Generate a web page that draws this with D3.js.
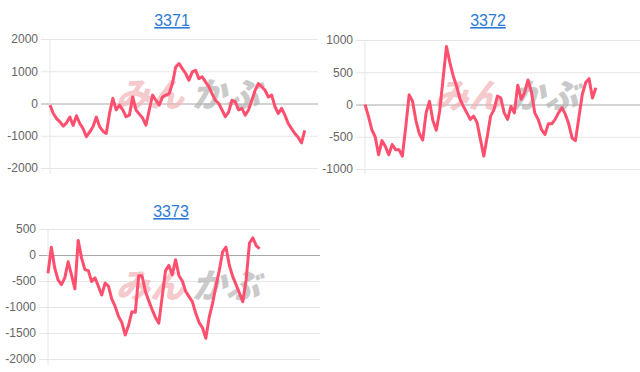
<!DOCTYPE html>
<html>
<head>
<meta charset="utf-8">
<script src="https://cdn.jsdelivr.net/npm/d3@7"></script>
<style>
  body { margin: 0; background: #fff; }
  svg { display: block; }
  .tick text { font-family: "Liberation Sans", Arial, sans-serif; font-size: 12px; fill: #666; }
  .title { font-family: "Liberation Sans", Arial, sans-serif; font-size: 16px; fill: #2b7bd6; text-decoration: underline; }
</style>
</head>
<body>
<div id="chart"></div>
<script>
// Data (equal time steps)
var codes = ["3371", "3372", "3373"];

var values3371 = [-50, -310, -470, -570, -700, -600, -420, -680, -380, -620,
  -780, -1030, -880, -720, -420, -720, -860, -930, -300, 160,
  -200, -50, -200, -410, -360, 200, -200, -330, -450, -670,
  -200, 260, 100, -50, 200, 260, 300, 620, 1130, 1240,
  1080, 930, 720, 980, 1030, 770, 830, 670, 520, 300,
  100, 0, -200, -410, -260, 100, 50, -200, -150, -360,
  -200, 100, 410, 620, 520, 410, 200, 260, -100, -310,
  -150, -360, -620, -780, -930, -1050, -1220, -830];

var values3372 = [0, -180, -390, -500, -780, -560, -650, -780, -620, -700,
  -700, -800, -350, 150, 50, -250, -450, -550, -130, 50,
  -250, -400, -100, 400, 900, 650, 440, 280, 80, -30,
  -130, -230, -180, -280, -540, -800, -500, -180, -80, 130,
  100, -130, -230, -30, -130, 300, 80, 180, 380, 200,
  -130, -230, -390, -465, -300, -300, -230, -130, -50, -150,
  -300, -520, -560, -200, 155, 340, 400, 100, 260];

var values3373 = [-350, 150, -250, -480, -570, -440, -130, -380, -650, 280,
  -60, -280, -300, -510, -440, -600, -770, -540, -600, -850,
  -990, -1180, -1300, -1540, -1350, -1090, -1100, -400, -400, -700,
  -880, -1050, -1200, -1310, -800, -300, -200, -380, -90, -400,
  -500, -700, -800, -900, -1120, -1300, -1400, -1600, -1200, -930,
  -600, -300, 60, 150, -200, -410, -570, -730, -900, -480,
  230, 330, 180, 120];

var series = [values3371, values3372, values3373];
var yDomains = [[-2000, 2000], [-1000, 1000], [-2000, 500]];
var yTicks = [[-2000, -1000, 0, 1000, 2000],
              [-1000, -500, 0, 500, 1000],
              [-2000, -1500, -1000, -500, 0, 500]];
var timeSlots = 81; // full trading-session length on the x axis

// panel boxes in page pixels
var panels = [
  {left: 50, top: 39, right: 318, bottom: 168, titleX: 172, titleY: 26},
  {left: 365, top: 40, right: 640, bottom: 169, titleX: 488, titleY: 26},
  {left: 48, top: 229, right: 320, bottom: 359, titleX: 171, titleY: 217}
];

var svg = d3.select("#chart").append("svg")
    .attr("width", 640)
    .attr("height", 372);

panels.forEach(function(p, i) {
  var xScale = d3.scaleLinear()
      .domain([0, timeSlots])
      .range([p.left, p.right]);

  var yScale = d3.scaleLinear()
      .domain(yDomains[i])
      .range([p.bottom, p.top]);

  var g = svg.append("g");

  // title
  g.append("text")
      .attr("class", "title")
      .attr("x", p.titleX)
      .attr("y", p.titleY)
      .attr("text-anchor", "middle")
      .text(codes[i]);

  // y axis with grid
  var yAxis = g.append("g")
      .attr("transform", "translate(" + p.left + ",0)")
      .call(d3.axisLeft(yScale)
        .tickValues(yTicks[i])
        .tickSize(-(p.right - p.left))
        .tickPadding(12)
        .tickFormat(function(d) { return String(d); }));
  yAxis.select(".domain").remove();
  yAxis.selectAll(".tick line")
      .attr("x1", -9)
      .attr("stroke", function(d) { return d === 0 ? "#a8a8a8" : "#e6e6e6"; });

  // left axis line
  g.append("line")
      .attr("x1", p.left).attr("x2", p.left)
      .attr("y1", p.top).attr("y2", p.bottom + 6)
      .attr("stroke", "#e6e6e6");

  // watermark
  var wm = g.append("g")
      .attr("transform", "translate(" + ((p.left + p.right) / 2 + 4) + "," + (yScale(yDomains[i][0]) + (p.top - p.bottom) * 0.47) + ") skewX(-14)")
      .style("font-family", "'Noto Sans CJK JP', sans-serif")
      .style("font-weight", "900")
      .style("font-size", "34px");
  wm.append("text")
      .attr("x", -4)
      .attr("text-anchor", "end")
      .attr("fill", "#f0b4b8")
      .attr("opacity", 0.7)
      .text("みん");
  wm.append("text")
      .attr("x", 4)
      .attr("text-anchor", "start")
      .attr("fill", "#b4b4b4")
      .attr("opacity", 0.7)
      .text("かぶ");

  // price line
  var line = d3.line()
      .x(function(d, j) { return xScale(j); })
      .y(function(d) { return yScale(d); });

  g.append("path")
      .datum(series[i])
      .attr("fill", "none")
      .attr("stroke", "#ff4f6e")
      .attr("stroke-width", 3)
      .attr("stroke-linejoin", "round")
      .attr("d", line);
});
</script>
</body>
</html>
